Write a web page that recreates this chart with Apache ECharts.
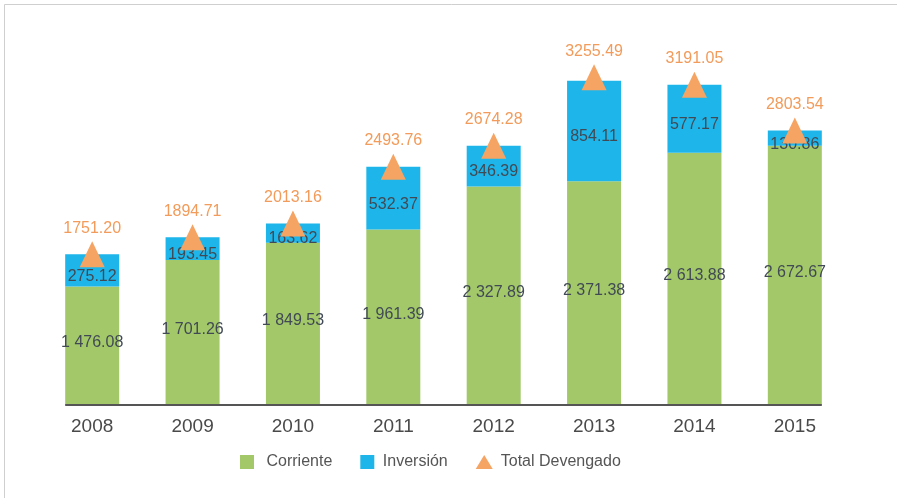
<!DOCTYPE html>
<html>
<head>
<meta charset="utf-8">
<script src="https://cdn.jsdelivr.net/npm/echarts@6/dist/echarts.min.js"></script>
<style>
  html, body { margin: 0; padding: 0; background: #fff; }
  #myChart { width: 897px; height: 498px; }
</style>
</head>
<body>
<div id="myChart"></div>
<script>
  // datos
  let years = ['2008', '2009', '2010', '2011', '2012', '2013', '2014', '2015'];
  let corriente = [1476.08, 1701.26, 1849.53, 1961.39, 2327.89, 2371.38, 2613.88, 2672.67];
  let inversion = [275.12, 193.45, 163.62, 532.37, 346.39, 854.11, 577.17, 130.86];
  let totalDevengado = [1751.20, 1894.71, 2013.16, 2493.76, 2674.28, 3255.49, 3191.05, 2803.54];

  let colors = ['#a2c86a', '#1eb6ea', '#f5a463'];
  let font = '"Liberation Sans", Arial, sans-serif';
  let barW = 54;

  // 1 476.08
  function fmtSpace(v) {
    let parts = v.toFixed(2).split('.');
    return parts[0].replace(/\B(?=(\d{3})+(?!\d))/g, ' ') + '.' + parts[1];
  }

  function drawChart() {
    let myChart = echarts.init(document.getElementById('myChart'));
    let sq = 'path://M0,0H10V10H0Z';
    let option = {
      color: colors,
      animation: false,
      textStyle: { fontFamily: font },
      grid: { left: 42, right: 52, top: 52, bottom: 93 },
      legend: {
        left: 235,
        top: 449,
        itemWidth: 17,
        itemHeight: 14,
        itemGap: 28,
        textStyle: { fontSize: 16, color: '#555', fontFamily: font },
        data: [
          { name: 'Corriente', icon: sq, textStyle: { padding: [0, 0, 0, 6] } },
          { name: 'Inversión', icon: sq, textStyle: { padding: [0, 0, 0, 2] } },
          { name: 'Total Devengado', icon: 'triangle', textStyle: { padding: [0, 0, 0, 3] } }
        ]
      },
      xAxis: {
        type: 'category',
        data: years,
        axisLine: { show: false },
        axisTick: { show: false },
        axisLabel: { fontSize: 19, color: '#4a4a4a', margin: 12, fontFamily: font }
      },
      yAxis: {
        type: 'value',
        min: 470,
        max: 3470,
        show: false,
        splitLine: { show: false }
      },
      series: [
        {
          name: 'Corriente',
          type: 'bar',
          stack: 'total',
          barWidth: barW,
          data: corriente,
          label: {
            show: true,
            position: 'inside',
            offset: [0, -3],
            fontSize: 16,
            color: '#414a54',
            fontFamily: font,
            formatter: function (p) { return fmtSpace(p.value); }
          }
        },
        {
          name: 'Inversión',
          type: 'bar',
          stack: 'total',
          barWidth: barW,
          data: inversion,
          label: {
            show: true,
            position: 'inside',
            offset: [0, 6],
            fontSize: 16,
            color: '#414a54',
            fontFamily: font,
            formatter: function (p) { return p.value.toFixed(2); }
          }
        },
        {
          name: 'Total Devengado',
          type: 'line',
          data: totalDevengado,
          symbol: 'triangle',
          symbolSize: [25, 26],
          lineStyle: { width: 0, opacity: 0 },
          z: 5,
          label: {
            show: true,
            position: 'top',
            distance: 5,
            fontSize: 16,
            color: '#f29b5a',
            fontFamily: font,
            formatter: function (p) { return p.value.toFixed(2); }
          }
        }
      ]
    };
    myChart.setOption(option);

    // linea base solo bajo las barras, y marco gris
    let x0 = myChart.convertToPixel({ xAxisIndex: 0 }, years[0]) - barW / 2;
    let x1 = myChart.convertToPixel({ xAxisIndex: 0 }, years[years.length - 1]) + barW / 2;
    let y0 = myChart.convertToPixel({ yAxisIndex: 0 }, 470);
    myChart.setOption({
      graphic: [
        {
          type: 'line',
          shape: { x1: x0, y1: y0, x2: x1, y2: y0 },
          style: { stroke: '#555', lineWidth: 2 },
          z: 10
        },
        {
          type: 'rect',
          shape: { x: 4.5, y: 4.5, width: 1000, height: 1000 },
          style: { fill: 'none', stroke: '#cfcfcf', lineWidth: 1 }
        }
      ]
    });
  }

  drawChart();
</script>
</body>
</html>
